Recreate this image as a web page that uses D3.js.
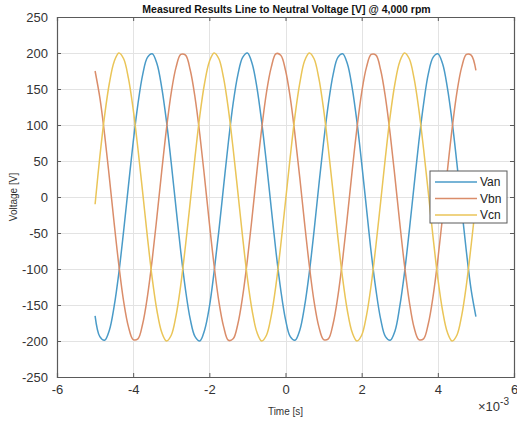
<!DOCTYPE html>
<html>
<head>
<meta charset="utf-8">
<script src="https://cdn.jsdelivr.net/npm/d3@7"></script>
<style>
  html, body { margin: 0; padding: 0; background: #fff; }
  svg { display: block; font-family: "Liberation Sans", Arial, Helvetica, sans-serif; }
</style>
</head>
<body>
<svg id="chart" width="517" height="426"></svg>
<script>
// Sample times in ms (axis shows seconds with a x10^-3 multiplier)
const timeMs = [
  -5.000,-4.875,-4.750,-4.625,-4.500,-4.375,-4.250,-4.125,-4.000,-3.875,
  -3.750,-3.625,-3.500,-3.375,-3.250,-3.125,-3.000,-2.875,-2.750,-2.625,
  -2.500,-2.375,-2.250,-2.125,-2.000,-1.875,-1.750,-1.625,-1.500,-1.375,
  -1.250,-1.125,-1.000,-0.875,-0.750,-0.625,-0.500,-0.375,-0.250,-0.125,
   0.000, 0.125, 0.250, 0.375, 0.500, 0.625, 0.750, 0.875, 1.000, 1.125,
   1.250, 1.375, 1.500, 1.625, 1.750, 1.875, 2.000, 2.125, 2.250, 2.375,
   2.500, 2.625, 2.750, 2.875, 3.000, 3.125, 3.250, 3.375, 3.500, 3.625,
   3.750, 3.875, 4.000, 4.125, 4.250, 4.375, 4.500, 4.625, 4.750, 4.875,
   5.000
];

// Line-to-neutral voltages [V]
const van = [
  -165,-194,-199,-185,-152,-105, -47,  15,  76, 129, 170, 194, 199, 185, 152, 105,  47, -15, -76,-129,
  -170,-194,-200,-185,-153,-104, -47,  15,  76, 130, 170, 194, 200, 185, 152, 104,  47, -15, -76,-129,
  -170,-194,-199,-185,-152,-105, -47,  16,  76, 129, 170, 194, 199, 185, 152, 105,  47, -15, -77,-129,
  -170,-194,-199,-186,-152,-105, -47,  15,  76, 129, 171, 194, 199, 185, 152, 105,  47, -15, -76,-129,
  -166
];
const vbn = [
   175, 138,  87,  27, -36, -95,-145,-180,-198,-197,-176,-138, -87, -27,  36,  95, 145, 180, 198, 197,
   176, 138,  87,  27, -36, -95,-145,-180,-199,-197,-176,-138, -87, -27,  36,  95, 145, 180, 199, 197,
   176, 138,  86,  27, -36, -95,-145,-180,-198,-197,-176,-138, -87, -27,  36,  95, 145, 180, 198, 197,
   176, 138,  87,  27, -36, -95,-145,-181,-198,-197,-176,-138, -87, -27,  36,  95, 145, 180, 198, 197,
   176
];
const vcn = [
   -10,  56, 113, 158, 188, 200, 192, 165, 122,  67,   6, -56,-113,-158,-188,-200,-192,-165,-122, -67,
    -6,  56, 113, 158, 188, 200, 192, 165, 122,  67,   6, -56,-113,-158,-188,-200,-192,-165,-122, -67,
    -6,  56, 113, 158, 189, 200, 192, 165, 122,  67,   6, -56,-113,-158,-188,-200,-192,-165,-122, -67,
    -6,  56, 113, 158, 188, 200, 192, 165, 122,  67,   6, -56,-113,-158,-188,-200,-192,-165,-122, -67,
    -6
];

const seriesNames = ["Van", "Vbn", "Vcn"];
const seriesColors = ["#4a9bc8", "#da8d6a", "#eac558"];

const xTicks = [-6, -4, -2, 0, 2, 4, 6];
const yTicks = [-250, -200, -150, -100, -50, 0, 50, 100, 150, 200, 250];

const chartTitle = "Measured Results Line to Neutral Voltage [V] @ 4,000 rpm";
const xLabel = "Time [s]";
const yLabel = "Voltage [V]";

const svg = d3.select("#chart");
const plot = { left: 57, right: 514, top: 17, bottom: 377 };

const x = d3.scaleLinear().domain([-6, 6]).range([plot.left, plot.right]);
const y = d3.scaleLinear().domain([-250, 250]).range([plot.bottom, plot.top]);

svg.append("rect").attr("width", 517).attr("height", 426).attr("fill", "#fff");

// grid
const grid = svg.append("g").attr("stroke", "#e3e3e3").attr("stroke-width", 1);
grid.selectAll(".gx").data(xTicks.slice(1, -1)).join("line")
  .attr("x1", d => Math.round(x(d)) + 0.5).attr("x2", d => Math.round(x(d)) + 0.5)
  .attr("y1", plot.top).attr("y2", plot.bottom);
grid.selectAll(".gy").data(yTicks.slice(1, -1)).join("line")
  .attr("y1", d => Math.round(y(d)) + 0.5).attr("y2", d => Math.round(y(d)) + 0.5)
  .attr("x1", plot.left).attr("x2", plot.right);

// series
const series = [van, vbn, vcn].map((vals, i) => ({
  name: seriesNames[i], color: seriesColors[i],
  points: timeMs.map((t, j) => [t, vals[j]])
}));

const line = d3.line().x(d => x(d[0])).y(d => y(d[1])).curve(d3.curveCatmullRom.alpha(0.5));

svg.append("g").selectAll("path").data(series).join("path")
  .attr("fill", "none")
  .attr("stroke", d => d.color)
  .attr("stroke-width", 1.5)
  .attr("d", d => line(d.points));

// axes (ticks pointing inward, box on)
const tickLen = 4;
const axisColor = "#5a5a5a";
const axG = svg.append("g");
const plainFormat = d => String(d);

const xAxisB = d3.axisBottom(x).tickValues(xTicks).tickSize(-tickLen).tickPadding(8).tickFormat(plainFormat);
const xAxisT = d3.axisTop(x).tickValues(xTicks).tickSize(-tickLen).tickFormat("");
const yAxisL = d3.axisLeft(y).tickValues(yTicks).tickSize(-tickLen).tickPadding(9).tickFormat(plainFormat);
const yAxisR = d3.axisRight(y).tickValues(yTicks).tickSize(-tickLen).tickFormat("");

[
  [xAxisB, `translate(0,${plot.bottom})`],
  [xAxisT, `translate(0,${plot.top})`],
  [yAxisL, `translate(${plot.left},0)`],
  [yAxisR, `translate(${plot.right},0)`]
].forEach(([ax, tr]) => {
  const g = axG.append("g").attr("transform", tr).call(ax);
  g.select(".domain").attr("stroke", axisColor).attr("stroke-width", 1.2);
  g.selectAll(".tick line").attr("stroke", axisColor);
  g.selectAll(".tick text").attr("fill", "#333").style("font-size", "13px")
    .style("font-family", "'Liberation Sans', Arial, sans-serif");
});

// x10^-3 multiplier
const mult = svg.append("text").attr("x", 478).attr("y", 411).attr("fill", "#333")
  .style("font-size", "13px");
mult.append("tspan").text("\u00d710");
mult.append("tspan").attr("dy", -6).style("font-size", "10px").text("-3");

// title
svg.append("text").attr("x", (plot.left + plot.right) / 2 + 1).attr("y", 13)
  .attr("text-anchor", "middle").attr("fill", "#111")
  .style("font-size", "10.5px").style("font-weight", "bold").text(chartTitle);

// axis labels
svg.append("text").attr("x", (plot.left + plot.right) / 2).attr("y", 415)
  .attr("text-anchor", "middle").attr("fill", "#333").style("font-size", "10px").text(xLabel);
svg.append("text")
  .attr("transform", `translate(17,${(plot.top + plot.bottom) / 2}) rotate(-90)`)
  .attr("text-anchor", "middle").attr("fill", "#333").style("font-size", "10px").text(yLabel);

// legend
const lg = svg.append("g").attr("transform", "translate(430,171)");
lg.append("rect").attr("width", 77).attr("height", 52)
  .attr("fill", "#fff").attr("stroke", "#5a5a5a").attr("stroke-width", 1);
const items = lg.selectAll(".item").data(series).join("g")
  .attr("transform", (d, i) => `translate(0,${11 + i * 16.5})`);
items.append("line").attr("x1", 5).attr("x2", 47).attr("y1", 0).attr("y2", 0)
  .attr("stroke", d => d.color).attr("stroke-width", 1.5);
items.append("text").attr("x", 50).attr("y", 4).attr("fill", "#222")
  .style("font-size", "12px").text(d => d.name);
</script>
</body>
</html>
